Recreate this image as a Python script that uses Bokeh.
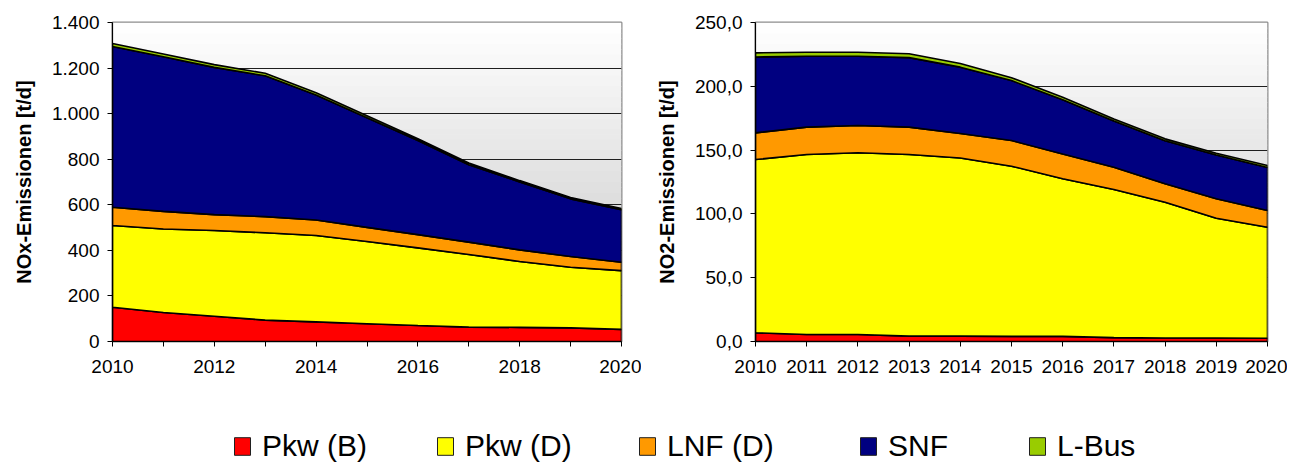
import numpy as np
from bokeh.plotting import figure
from bokeh.models import Range1d, FixedTicker, BoxAnnotation, Legend, LegendItem
from bokeh.layouts import column, row
from bokeh.embed import file_html
from bokeh.resources import INLINE

# ---------------- data ----------------
years = [2010, 2011, 2012, 2013, 2014, 2015, 2016, 2017, 2018, 2019, 2020]
series_names = ["Pkw (B)", "Pkw (D)", "LNF (D)", "SNF", "L-Bus"]
series_colors = ["#FF0000", "#FFFF00", "#FF9900", "#000080", "#99CC00"]

# NOx emissions [t/d]
nox_pkw_b = [150, 127, 111, 94, 86, 78, 70, 63, 62, 60, 53]
nox_pkw_d = [359, 367, 376, 383, 379, 361, 341, 319, 289, 266, 258]
nox_lnf_d = [80, 77, 70, 71, 68, 62, 58, 54, 51, 47, 37]
nox_snf = [706, 679, 646, 618, 549, 481, 413, 340, 298, 253, 230]
nox_lbus = [13, 12, 12, 11, 10, 9, 8, 7, 6, 6, 6]

# NO2 emissions [t/d]
no2_pkw_b = [6.8, 5.5, 5.5, 4.2, 4.2, 4.0, 4.0, 3.0, 2.8, 2.7, 2.6]
no2_pkw_d = [135.8, 141.0, 142.4, 142.3, 139.6, 133.4, 123.5, 116.1, 106.4, 93.9, 87.0]
no2_lnf_d = [20.9, 21.5, 21.4, 21.5, 19.2, 20.1, 19.5, 17.5, 14.4, 15.2, 13.1]
no2_snf = [59.5, 55.5, 54.2, 54.5, 52.0, 47.0, 42.5, 36.2, 33.7, 34.4, 33.7]
no2_lbus = [3.2, 3.2, 3.2, 3.0, 2.8, 2.2, 2.0, 1.5, 1.5, 1.4, 1.5]

nox_y_ticks = [0, 200, 400, 600, 800, 1000, 1200, 1400]
nox_y_labels = ["0", "200", "400", "600", "800", "1.000", "1.200", "1.400"]
nox_x_labels = ["2010", "", "2012", "", "2014", "", "2016", "", "2018", "", "2020"]

no2_y_ticks = [0, 50, 100, 150, 200, 250]
no2_y_labels = ["0,0", "50,0", "100,0", "150,0", "200,0", "250,0"]
no2_x_labels = ["2010", "2011", "2012", "2013", "2014", "2015", "2016", "2017", "2018", "2019", "2020"]

FONT = "Liberation Sans"


def make_chart(series, ymax, yticks, ylabels, xlabels, ylabel, frame_w, mb_left, mb_right):
    p = figure(frame_width=frame_w, frame_height=319,
               x_range=Range1d(years[0], years[-1]), y_range=Range1d(0, ymax),
               output_backend="svg", toolbar_location=None,
               min_border_left=mb_left, min_border_right=mb_right,
               min_border_top=22, min_border_bottom=40)
    p.background_fill_color = "white"
    p.border_fill_color = "white"
    # vertical gradient background (white -> gray)
    n = 60
    for i in range(n):
        f0, f1 = i / n, (i + 1) / n
        g = int(round(255 - 60 * (f0 + f1) / 2))
        p.add_layout(BoxAnnotation(bottom=ymax * (1 - f1) - ymax * 0.002, top=ymax * (1 - f0),
                                   fill_color=(g, g, g), fill_alpha=1.0,
                                   line_color=None, level="image"))
    p.xgrid.visible = False
    p.ygrid.ticker = FixedTicker(ticks=yticks)
    p.ygrid.grid_line_color = "#1e1e1e"
    p.ygrid.grid_line_width = 1

    bottom = np.zeros(len(years))
    for vals, color in zip(series, series_colors):
        top = bottom + np.array(vals, dtype=float)
        xs = list(years) + list(years[::-1])
        ys = list(top) + list(bottom[::-1])
        p.patch(xs, ys, fill_color=color, line_color="black", line_width=1.6)
        bottom = top

    p.outline_line_color = "#8c8c8c"
    p.outline_line_width = 2

    for ax in (p.xaxis[0], p.yaxis[0]):
        ax.axis_line_color = "black"
        ax.axis_line_width = 1.2
        ax.major_tick_line_color = "black"
        ax.major_tick_out = 5
        ax.major_tick_in = 0
        ax.minor_tick_line_color = None
        ax.major_label_text_font = FONT
        ax.major_label_text_font_size = "19px"
        ax.major_label_text_color = "black"

    p.xaxis.ticker = FixedTicker(ticks=years)
    p.xaxis.major_label_overrides = {y: l for y, l in zip(years, xlabels)}
    p.xaxis.major_label_standoff = 13

    p.yaxis.ticker = FixedTicker(ticks=yticks)
    p.yaxis.major_label_overrides = {t: l for t, l in zip(yticks, ylabels)}
    p.yaxis.major_label_standoff = 8
    p.yaxis.axis_label = ylabel
    p.yaxis.axis_label_text_font = FONT
    p.yaxis.axis_label_text_font_style = "bold"
    p.yaxis.axis_label_text_font_size = "20px"
    p.yaxis.axis_label_text_color = "black"
    p.yaxis.axis_label_standoff = 14
    return p


p1 = make_chart([nox_pkw_b, nox_pkw_d, nox_lnf_d, nox_snf, nox_lbus], 1400,
                nox_y_ticks, nox_y_labels, nox_x_labels, "NOx-Emissionen [t/d]",
                509, 112, 20)
p2 = make_chart([no2_pkw_b, no2_pkw_d, no2_lnf_d, no2_snf, no2_lbus], 250,
                no2_y_ticks, no2_y_labels, no2_x_labels, "NO2-Emissionen [t/d]",
                512, 114, 20)

# ---------------- legend ----------------
lp = figure(width=1287, height=83, x_range=Range1d(0, 1), y_range=Range1d(0, 1),
            output_backend="svg", toolbar_location=None, min_border=0,
            x_axis_location=None, y_axis_location=None)
lp.outline_line_color = None
lp.xgrid.visible = False
lp.ygrid.visible = False
legend_x = [232, 435, 637, 858, 1027]
for name, color, lx in zip(series_names, series_colors, legend_x):
    # invisible proxy glyph (outside the visible range) used only for the legend swatch
    r = lp.quad(left=[5], right=[6], top=[6], bottom=[5], fill_color=color, line_color="#202020")
    leg = Legend(items=[LegendItem(label=name, renderers=[r])], location=(lx, 1),
                 orientation="horizontal", padding=0, margin=0, spacing=0,
                 border_line_color=None, background_fill_alpha=0,
                 glyph_width=20, glyph_height=22, label_standoff=10,
                 label_text_font=FONT, label_text_font_size="30px",
                 label_text_color="black")
    lp.add_layout(leg)

layout = column(row(p1, p2), lp)
open("out.html", "w").write(file_html(layout, INLINE))
